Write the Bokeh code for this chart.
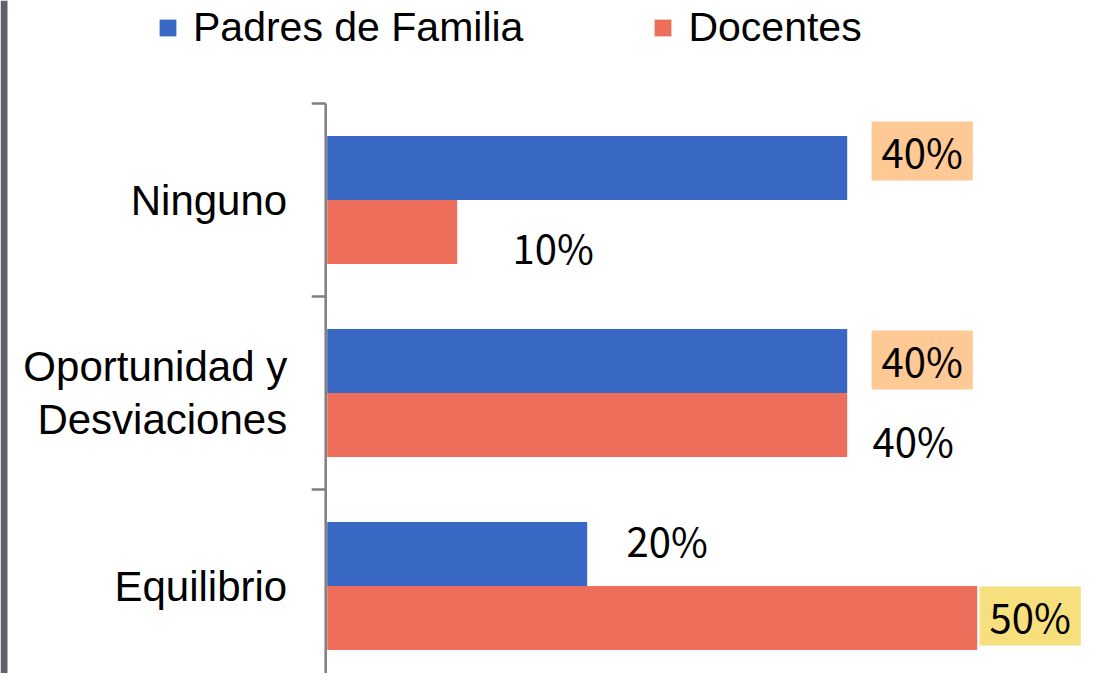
from bokeh.plotting import figure
from bokeh.models import ColumnDataSource, Range1d, Legend, LegendItem
from bokeh.core.properties import value
from bokeh.embed import file_html
from bokeh.resources import INLINE

# ---------------- data ----------------
categories = ["Ninguno", "Oportunidad y\nDesviaciones", "Equilibrio"]
series_names = ["Padres de Familia", "Docentes"]
padres = [40, 40, 20]
docentes = [10, 40, 50]

# ---------------- label layout (screen px offsets from bar end / bar centre) ----------------
padres_label_dx = [75, 75, 80]
padres_label_dy = [-17, -1, -14]
docentes_label_dx = [96, 66, 53]
docentes_label_dy = [15, 15, -2]
padres_label_bg = ["#FFC996", "#FFC996", None]
docentes_label_bg = [None, None, "#F8DF7E"]

# ---------------- styles ----------------
BLUE = "#3868C3"
RED = "#EC6E5B"
AXIS = "#7F7F7F"
FRAME_GRAY = "#5F6068"

W, H = 1091, 673
PX_PER_PCT = 13.0
ZERO_PX = 326.7          # screen x of 0 %
UNIT_PX = 193.0          # screen height of one category band
BOTTOM_CAT_PX = 585.5    # screen y of the centre of the lowest category

x_start = -ZERO_PX / PX_PER_PCT
x_end = (W - ZERO_PX) / PX_PER_PCT
y_start = -(H - BOTTOM_CAT_PX) / UNIT_PX
y_end = BOTTOM_CAT_PX / UNIT_PX

n = len(categories)
pos = [n - 1 - i for i in range(n)]
bar_h = 64.0 / UNIT_PX
dodge = bar_h / 2

p = figure(width=W, height=H, output_backend="svg", toolbar_location=None,
           x_range=Range1d(x_start, x_end), y_range=Range1d(y_start, y_end),
           x_axis_location=None, y_axis_location=None, min_border=0)
p.grid.visible = False
p.outline_line_color = None
p.background_fill_color = "white"
p.border_fill_color = "white"

# left gray frame edge
p.quad(left=[x_start], right=[x_start + 7 / PX_PER_PCT], bottom=[y_start], top=[y_end],
       fill_color=FRAME_GRAY, line_color=None)

# bars
src_p = ColumnDataSource(dict(y=[q + dodge for q in pos], v=padres))
src_d = ColumnDataSource(dict(y=[q - dodge for q in pos], v=docentes))
r_p = p.hbar(y="y", right="v", left=0, height=bar_h, source=src_p,
             fill_color=BLUE, line_color=None)
r_d = p.hbar(y="y", right="v", left=0, height=bar_h, source=src_d,
             fill_color=RED, line_color=None)

# category axis line + ticks at category boundaries
axis_x = -1.5 / PX_PER_PCT
tick_len = 14 / PX_PER_PCT
bounds = [q - 0.5 for q in pos] + [pos[0] + 0.5]
p.segment(x0=[axis_x], y0=[min(bounds)], x1=[axis_x], y1=[max(bounds)],
          line_color=AXIS, line_width=2.5)
p.segment(x0=[axis_x - tick_len] * len(bounds), y0=bounds,
          x1=[axis_x] * len(bounds), y1=bounds, line_color=AXIS, line_width=2.5)

# category labels
p.text(x=[0] * n, y=pos, text=categories, x_offset=-40,
       text_align="right", text_baseline="middle",
       text_font=value("Liberation Sans"), text_font_size="42px",
       text_color="black", text_line_height=1.12)

# data labels
lab = dict(x=[], y=[], text=[], dx=[], dy=[], bg=[])
for vals, ys, dxs, dys, bgs in ((padres, src_p.data["y"], padres_label_dx, padres_label_dy, padres_label_bg),
                                (docentes, src_d.data["y"], docentes_label_dx, docentes_label_dy, docentes_label_bg)):
    for v, yy, dx, dy, bg in zip(vals, ys, dxs, dys, bgs):
        lab["x"].append(v)
        lab["y"].append(yy)
        lab["text"].append(f"{v}%")
        lab["dx"].append(dx)
        lab["dy"].append(dy)
        lab["bg"].append(bg)

boxed = {k: [lab[k][i] for i in range(len(lab["x"])) if lab["bg"][i]] for k in lab}
plain = {k: [lab[k][i] for i in range(len(lab["x"])) if not lab["bg"][i]] for k in lab}

common = dict(text_align="center", text_baseline="middle",
              text_font=value("Noto Sans CJK JP"), text_font_size="40px", text_color="black")
p.text(x="x", y="y", text="text", x_offset="dx", y_offset="dy",
       source=ColumnDataSource(plain), **common)
p.text(x="x", y="y", text="text", x_offset="dx", y_offset="dy",
       background_fill_color="bg", padding=dict(left=10, right=10, top=0, bottom=1),
       source=ColumnDataSource(boxed), **common)

# legend
legend = Legend(items=[LegendItem(label=series_names[0], renderers=[r_p]),
                       LegendItem(label=series_names[1], renderers=[r_d])],
                orientation="horizontal", location=(157, 622),
                label_text_font="Liberation Sans", label_text_font_size="41px",
                label_text_color="black",
                glyph_width=21, glyph_height=21, label_standoff=15, spacing=129,
                padding=0, margin=0, border_line_color=None, background_fill_alpha=0)
p.add_layout(legend, "center")

open("out.html", "w").write(file_html(p, INLINE))
